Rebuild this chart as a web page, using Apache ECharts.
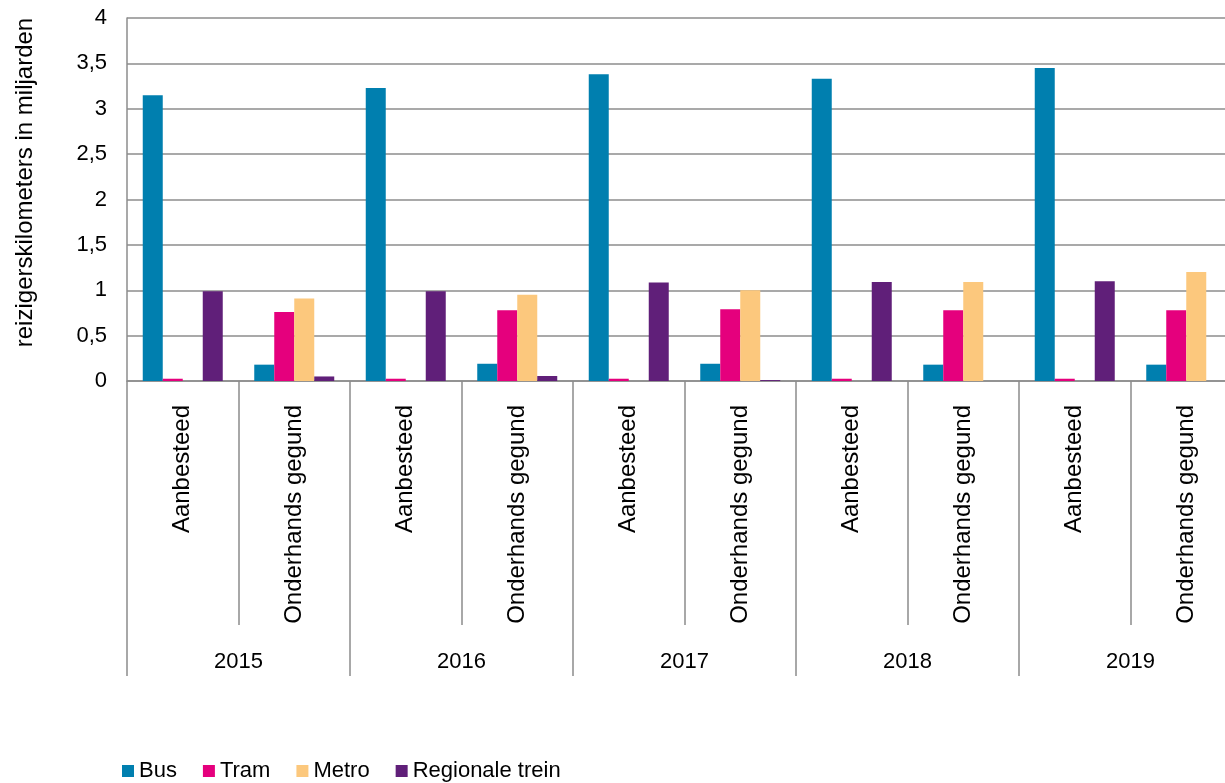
<!DOCTYPE html>
<html>
<head>
<meta charset="utf-8">
<script src="https://cdn.jsdelivr.net/npm/echarts@6/dist/echarts.min.js"></script>
<style>html,body{margin:0;padding:0;background:#fff}#c{width:1225px;height:783px}</style>
</head>
<body>
<div id="c"></div>
<script>
const categories = ['Aanbesteed','Onderhands gegund','Aanbesteed','Onderhands gegund','Aanbesteed','Onderhands gegund','Aanbesteed','Onderhands gegund','Aanbesteed','Onderhands gegund'];
const years = ['2015','2016','2017','2018','2019'];
const bus = [3.15, 0.18, 3.23, 0.19, 3.38, 0.19, 3.33, 0.18, 3.45, 0.18];
const tram = [0.025, 0.76, 0.025, 0.78, 0.025, 0.79, 0.025, 0.78, 0.025, 0.78];
const metro = [0, 0.91, 0, 0.95, 0, 1.0, 0, 1.09, 0, 1.2];
const trein = [0.99, 0.05, 0.99, 0.055, 1.085, 0.01, 1.09, 0, 1.1, 0];
const yTicks = [0, 0.5, 1, 1.5, 2, 2.5, 3, 3.5, 4];

const FONT = 'Liberation Sans, Arial, sans-serif';
const GRID = '#8c8c8c';
const chart = echarts.init(document.getElementById('c'));
function mk(name, data, color) {
  return { name, type: 'bar', data, barWidth: 20, barGap: '0%', itemStyle: { color }, xAxisIndex: 0 };
}
chart.setOption({
  animation: false,
  textStyle: { fontFamily: FONT },
  grid: { left: 127, width: 1115, top: 18, height: 363, containLabel: false, outerBoundsMode: 'none' },
  legend: {
    left: 117, top: 755, icon: 'rect', itemWidth: 12, itemHeight: 12, itemGap: 26,
    textStyle: { fontSize: 22, color: '#000', fontFamily: FONT },
    data: ['Bus','Tram','Metro','Regionale trein']
  },
  xAxis: [
    {
      type: 'category', data: categories, position: 'bottom',
      axisLine: { show: true, lineStyle: { color: GRID, width: 1.5 } },
      axisTick: { show: true, length: 244, lineStyle: { color: GRID, width: 1.5 } },
      axisLabel: { rotate: 90, margin: 24, fontSize: 24, color: '#000', fontFamily: FONT, interval: 0 }
    },
    {
      type: 'category', data: years, position: 'bottom',
      axisLine: { show: false },
      axisTick: { show: true, length: 295, lineStyle: { color: GRID, width: 1.5 } },
      axisLabel: { margin: 270, fontSize: 22, color: '#000', fontFamily: FONT, interval: 0 }
    }
  ],
  yAxis: {
    type: 'value', min: 0, max: 4, interval: 0.5,
    name: 'reizigerskilometers in miljarden', nameLocation: 'middle', nameGap: 90,
    nameTextStyle: { fontSize: 24, color: '#000', fontFamily: FONT, padding: [0, 0, 0, 34] },
    axisLine: { show: true, lineStyle: { color: GRID, width: 1.5 } },
    axisTick: { show: false },
    splitLine: { show: true, lineStyle: { color: GRID, width: 1.5 } },
    axisLabel: { margin: 20, fontSize: 22, color: '#000', fontFamily: FONT,
      formatter: v => yTicks.includes(v) ? String(v).replace('.', ',') : '' }
  },
  series: [
    mk('Bus', bus, '#007FAF'),
    mk('Tram', tram, '#E5007D'),
    mk('Metro', metro, '#FCC87D'),
    mk('Regionale trein', trein, '#601F79')
  ]
});
</script>
</body>
</html>
